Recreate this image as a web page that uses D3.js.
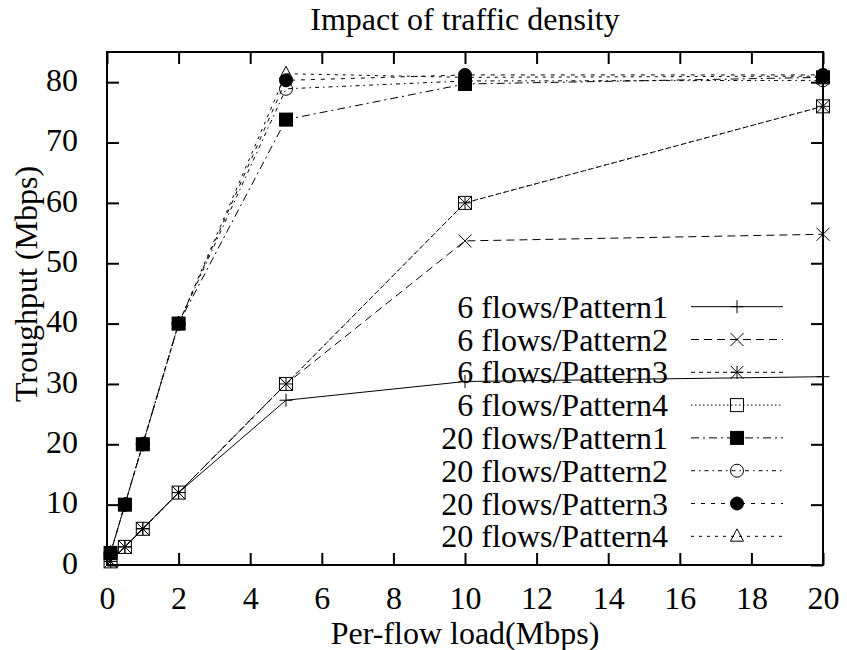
<!DOCTYPE html>
<html>
<head>
<meta charset="utf-8">
<script src="https://cdn.jsdelivr.net/npm/d3@7"></script>
<style>
  body { margin: 0; background: #fff; }
  svg text { font-size: 32px; fill: #000; }
</style>
</head>
<body>
<div id="main"></div>
<script>
/**
 * Layout
 */
const WIDTH = 847;
const HEIGHT = 650;
const PLOT = { left: 107, right: 823, top: 52, bottom: 565 };
const TICK = 12;
const MARK = 6.5;
const FONT = "'Liberation Serif', 'Nimbus Roman', 'Nimbus Roman No9 L', Times, 'DejaVu Serif', serif";

/**
 * Data
 */
const LOADS = [0.1, 0.5, 1, 2, 5, 10, 20];
const X_TICKS = [0, 2, 4, 6, 8, 10, 12, 14, 16, 18, 20];
const Y_TICKS = [0, 10, 20, 30, 40, 50, 60, 70, 80];

const LABELS = [
  "6 flows/Pattern1", "6 flows/Pattern2", "6 flows/Pattern3", "6 flows/Pattern4",
  "20 flows/Pattern1", "20 flows/Pattern2", "20 flows/Pattern3", "20 flows/Pattern4"
];

const F6_P1 = [0.6, 3, 6, 12, 27.3, 30.4, 31.2];
const F6_P2 = [0.6, 3, 6, 12, 30, 53.7, 54.8];
const F6_P3 = [0.6, 3, 6, 12, 30, 60, 76];
const F6_P4 = [0.6, 3, 6, 12, 30, 60, 76];
const F20_P1 = [2, 10, 20, 40, 73.8, 79.7, 80.8];
const F20_P2 = [2, 10, 20, 40, 78.9, 80.2, 80.3];
const F20_P3 = [2, 10, 20, 40, 80.3, 81.2, 81.2];
const F20_P4 = [2, 10, 20, 40, 81.4, 80.8, 81.0];

const VALUES = [F6_P1, F6_P2, F6_P3, F6_P4, F20_P1, F20_P2, F20_P3, F20_P4];

// styles, same order as LABELS
const DASHES = ["none", "8,5", "4,4", "1.5,2.5", "8,4,2,4", "4,4,1.5,4", "4,6", "3,5"];
const MARKERS = ["plus", "cross", "star", "box", "boxFilled", "circle", "circleFilled", "triangle"];

/**
 * Helpers
 */
function getSvg() {
  return d3.select("#main")
    .append("svg")
    .attr("width", WIDTH)
    .attr("height", HEIGHT)
    .attr("viewBox", [0, 0, WIDTH, HEIGHT]);
}

function drawMarker(g, type, cx, cy) {
  const h = MARK;
  const p = d3.path();
  if (type === "plus" || type === "star") {
    p.moveTo(cx - h, cy); p.lineTo(cx + h, cy);
    p.moveTo(cx, cy - h); p.lineTo(cx, cy + h);
  }
  if (type === "cross" || type === "star") {
    p.moveTo(cx - h, cy - h); p.lineTo(cx + h, cy + h);
    p.moveTo(cx - h, cy + h); p.lineTo(cx + h, cy - h);
  }
  if (p.toString()) {
    g.append("path").attr("d", p.toString())
      .attr("fill", "none").attr("stroke", "#000").attr("stroke-width", 1);
    return;
  }
  if (type === "box" || type === "boxFilled") {
    g.append("rect")
      .attr("x", cx - h).attr("y", cy - h)
      .attr("width", 2 * h).attr("height", 2 * h)
      .attr("fill", type === "boxFilled" ? "#000" : "none")
      .attr("stroke", "#000").attr("stroke-width", 1);
  } else if (type === "circle" || type === "circleFilled") {
    g.append("circle")
      .attr("cx", cx).attr("cy", cy).attr("r", h)
      .attr("fill", type === "circleFilled" ? "#000" : "none")
      .attr("stroke", "#000").attr("stroke-width", 1);
  } else if (type === "triangle") {
    const t = d3.path();
    t.moveTo(cx, cy - h * 1.15);
    t.lineTo(cx + h, cy + h * 0.75);
    t.lineTo(cx - h, cy + h * 0.75);
    t.closePath();
    g.append("path").attr("d", t.toString())
      .attr("fill", "none").attr("stroke", "#000").attr("stroke-width", 1);
  }
}

/**
 * Render
 */
function render() {
  const svg = getSvg().attr("font-family", FONT);

  const x = d3.scaleLinear().domain([0, 20]).range([PLOT.left, PLOT.right]);
  const y = d3.scaleLinear().domain([0, 85]).range([PLOT.bottom, PLOT.top]);

  // axes: ticks point inward, mirrored on top/right
  const bottom = svg.append("g")
    .attr("transform", `translate(0, ${PLOT.bottom})`)
    .call(d3.axisBottom(x).tickValues(X_TICKS).tickSize(-TICK).tickPadding(21));
  const left = svg.append("g")
    .attr("transform", `translate(${PLOT.left}, 0)`)
    .call(d3.axisLeft(y).tickValues(Y_TICKS).tickSize(-TICK).tickPadding(29));
  const top = svg.append("g")
    .attr("transform", `translate(0, ${PLOT.top})`)
    .call(d3.axisTop(x).tickValues(X_TICKS).tickSize(-TICK).tickFormat(""));
  const right = svg.append("g")
    .attr("transform", `translate(${PLOT.right}, 0)`)
    .call(d3.axisRight(y).tickValues(Y_TICKS).tickSize(-TICK).tickFormat(""));

  [bottom, left, top, right].forEach(a => {
    a.attr("font-family", FONT).attr("font-size", 32);
    a.select(".domain").remove();
    a.selectAll(".tick line").attr("stroke", "#000").attr("stroke-width", 2);
    a.selectAll("text").attr("fill", "#000");
  });
  left.selectAll("text").attr("dy", "0.26em");

  svg.append("rect")
    .attr("x", PLOT.left).attr("y", PLOT.top)
    .attr("width", PLOT.right - PLOT.left).attr("height", PLOT.bottom - PLOT.top)
    .attr("fill", "none").attr("stroke", "#000").attr("stroke-width", 2);

  // titles
  svg.append("text")
    .attr("x", (PLOT.left + PLOT.right) / 2).attr("y", 30)
    .attr("text-anchor", "middle").text("Impact of traffic density");
  svg.append("text")
    .attr("x", (PLOT.left + PLOT.right) / 2).attr("y", 644)
    .attr("text-anchor", "middle").text("Per-flow load(Mbps)");
  svg.append("text")
    .attr("transform", "translate(37, 284) rotate(-90)")
    .attr("text-anchor", "middle").text("Troughput (Mbps)");

  // series
  const line = d3.line().x(d => x(d[0])).y(d => y(d[1]));
  VALUES.forEach((vals, i) => {
    const pts = LOADS.map((l, j) => [l, vals[j]]);
    const g = svg.append("g");
    g.append("path")
      .attr("d", line(pts))
      .attr("fill", "none")
      .attr("stroke", "#000")
      .attr("stroke-width", 1)
      .attr("stroke-dasharray", DASHES[i]);
    pts.forEach(p => drawMarker(g, MARKERS[i], x(p[0]), y(p[1])));
  });

  // legend
  const legend = svg.append("g");
  LABELS.forEach((label, i) => {
    const cy = 306.7 + i * 32.8;
    legend.append("text")
      .attr("x", 668).attr("y", cy + 11)
      .attr("text-anchor", "end").text(label);
    legend.append("line")
      .attr("x1", 691).attr("x2", 783).attr("y1", cy).attr("y2", cy)
      .attr("stroke", "#000").attr("stroke-width", 1)
      .attr("stroke-dasharray", DASHES[i]);
    drawMarker(legend, MARKERS[i], 737, cy);
  });
}

render();
</script>
</body>
</html>
